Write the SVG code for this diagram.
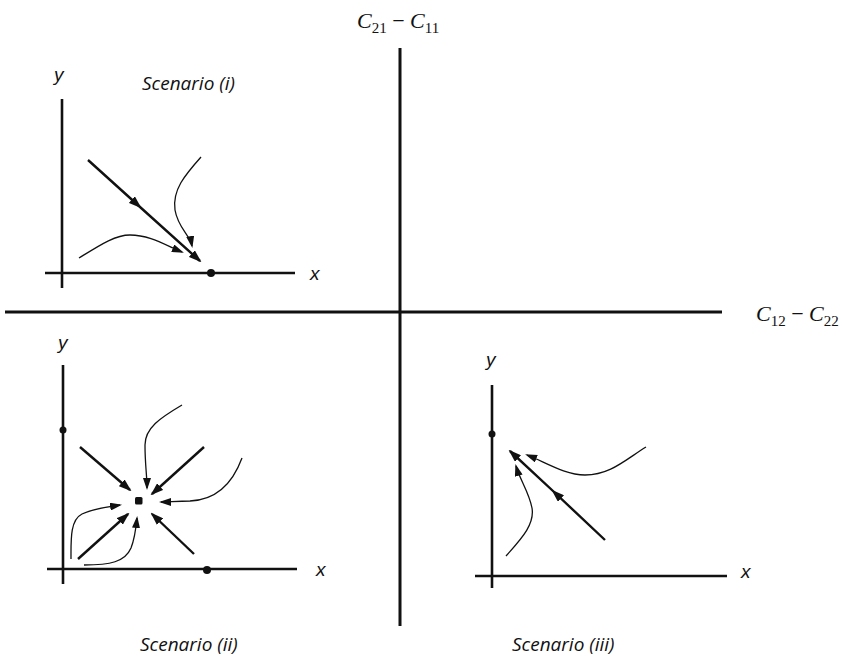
<svg xmlns="http://www.w3.org/2000/svg" width="842" height="659" viewBox="0 0 842 659">
<style>
.ax{stroke:#111;stroke-width:2.6;fill:none;stroke-linecap:butt}
.main{stroke:#111;stroke-width:3;fill:none}
.thick{stroke:#111;stroke-width:2.4;fill:none}
.thin{stroke:#111;stroke-width:1.3;fill:none}
.lab{font-family:"Liberation Sans",Arial,sans-serif;font-style:italic;font-size:19px;fill:#111}
.scen{font-family:"Open Sans","Liberation Sans",sans-serif;font-style:italic;font-size:19px;fill:#111}
.math{font-family:"Liberation Serif","DejaVu Serif",serif;font-style:italic;font-size:22px;fill:#111}
.sub{font-style:normal;font-size:15px}
.op{font-style:normal}
</style>
<defs>
<marker id="ah" viewBox="0 0 13 9" refX="11" refY="4.5" markerWidth="13" markerHeight="9" markerUnits="userSpaceOnUse" orient="auto">
<path d="M0,0 L13,4.5 L0,9 z" fill="#111"/>
</marker>
<marker id="ahs" viewBox="0 0 12 8" refX="10" refY="4" markerWidth="12" markerHeight="8" markerUnits="userSpaceOnUse" orient="auto">
<path d="M0,0 L12,4 L0,8 z" fill="#111"/>
</marker>
</defs>

<g id="main-axes">
<line class="main" x1="400" y1="48" x2="400" y2="626"/>
<line class="main" x1="5" y1="312" x2="722" y2="312"/>
<text class="math" x="357" y="28">C<tspan class="sub" dy="5">21</tspan><tspan class="op" dy="-5"> − </tspan>C<tspan class="sub" dy="5">11</tspan></text>
<text class="math" x="756" y="321">C<tspan class="sub" dy="5">12</tspan><tspan class="op" dy="-5"> − </tspan>C<tspan class="sub" dy="5">22</tspan></text>
</g>

<g id="panel-i">
<line class="ax" x1="62" y1="99" x2="62" y2="288"/>
<line class="ax" x1="45" y1="273" x2="295" y2="273"/>
<circle cx="211" cy="273" r="4" fill="#111"/>
<text class="lab" x="54" y="81">y</text>
<text class="lab" x="310" y="280">x</text>
<text class="scen" x="142" y="90">Scenario (i)</text>
</g>

<g id="panel-ii">
<line class="ax" x1="63" y1="365" x2="63" y2="584"/>
<line class="ax" x1="47" y1="569" x2="297" y2="569"/>
<circle cx="63" cy="430" r="3.5" fill="#111"/>
<circle cx="207" cy="570" r="4" fill="#111"/>
<rect x="135" y="497" width="7.5" height="7.5" rx="1.5" fill="#111"/>
<text class="lab" x="58" y="349">y</text>
<text class="lab" x="316" y="576">x</text>
<text class="scen" x="140" y="651">Scenario (ii)</text>
</g>

<g id="panel-iii">
<line class="ax" x1="492" y1="385" x2="492" y2="588"/>
<line class="ax" x1="475" y1="576" x2="727" y2="576"/>
<circle cx="492" cy="434" r="3.5" fill="#111"/>
<text class="lab" x="486" y="366">y</text>
<text class="lab" x="741" y="578">x</text>
<text class="scen" x="512" y="651">Scenario (iii)</text>
</g>

<g id="connectors">
<polyline class="thick" points="88,160 140,207 200,261" marker-mid="url(#ah)" marker-end="url(#ah)"/>
<path class="thin" d="M201,157 C185,175 172,190 175,210 C178,228 190,235 192,246" marker-end="url(#ahs)"/>
<path class="thin" d="M79,258 C100,245 115,235 130,235 C150,235 165,245 182,252" marker-end="url(#ahs)"/>
<line class="thick" x1="80" y1="447" x2="130" y2="490" marker-end="url(#ah)"/>
<line class="thick" x1="204" y1="447" x2="152" y2="494" marker-end="url(#ah)"/>
<line class="thick" x1="78" y1="559" x2="128" y2="514" marker-end="url(#ah)"/>
<line class="thick" x1="194" y1="554" x2="152" y2="514" marker-end="url(#ah)"/>
<path class="thin" d="M182,405 C160,418 145,428 145,445 C145,465 147,475 147,488" marker-end="url(#ahs)"/>
<path class="thin" d="M242,458 C232,485 215,500 190,501 C178,501 168,502 161,502" marker-end="url(#ahs)"/>
<path class="thin" d="M71,559 C71,540 70,520 82,514 C95,508 108,507 120,505" marker-end="url(#ahs)"/>
<path class="thin" d="M84,565 C110,565 125,562 131,548 C135,538 136,528 137,518" marker-end="url(#ahs)"/>
<polyline class="thick" points="605,540 553,491 510,451" marker-mid="url(#ah)" marker-end="url(#ah)"/>
<path class="thin" d="M646,447 C625,460 610,475 585,475 C565,475 545,462 527,455" marker-end="url(#ahs)"/>
<path class="thin" d="M506,556 C520,540 535,525 532,508 C529,492 520,480 516,466" marker-end="url(#ahs)"/>
</g>
</svg>
